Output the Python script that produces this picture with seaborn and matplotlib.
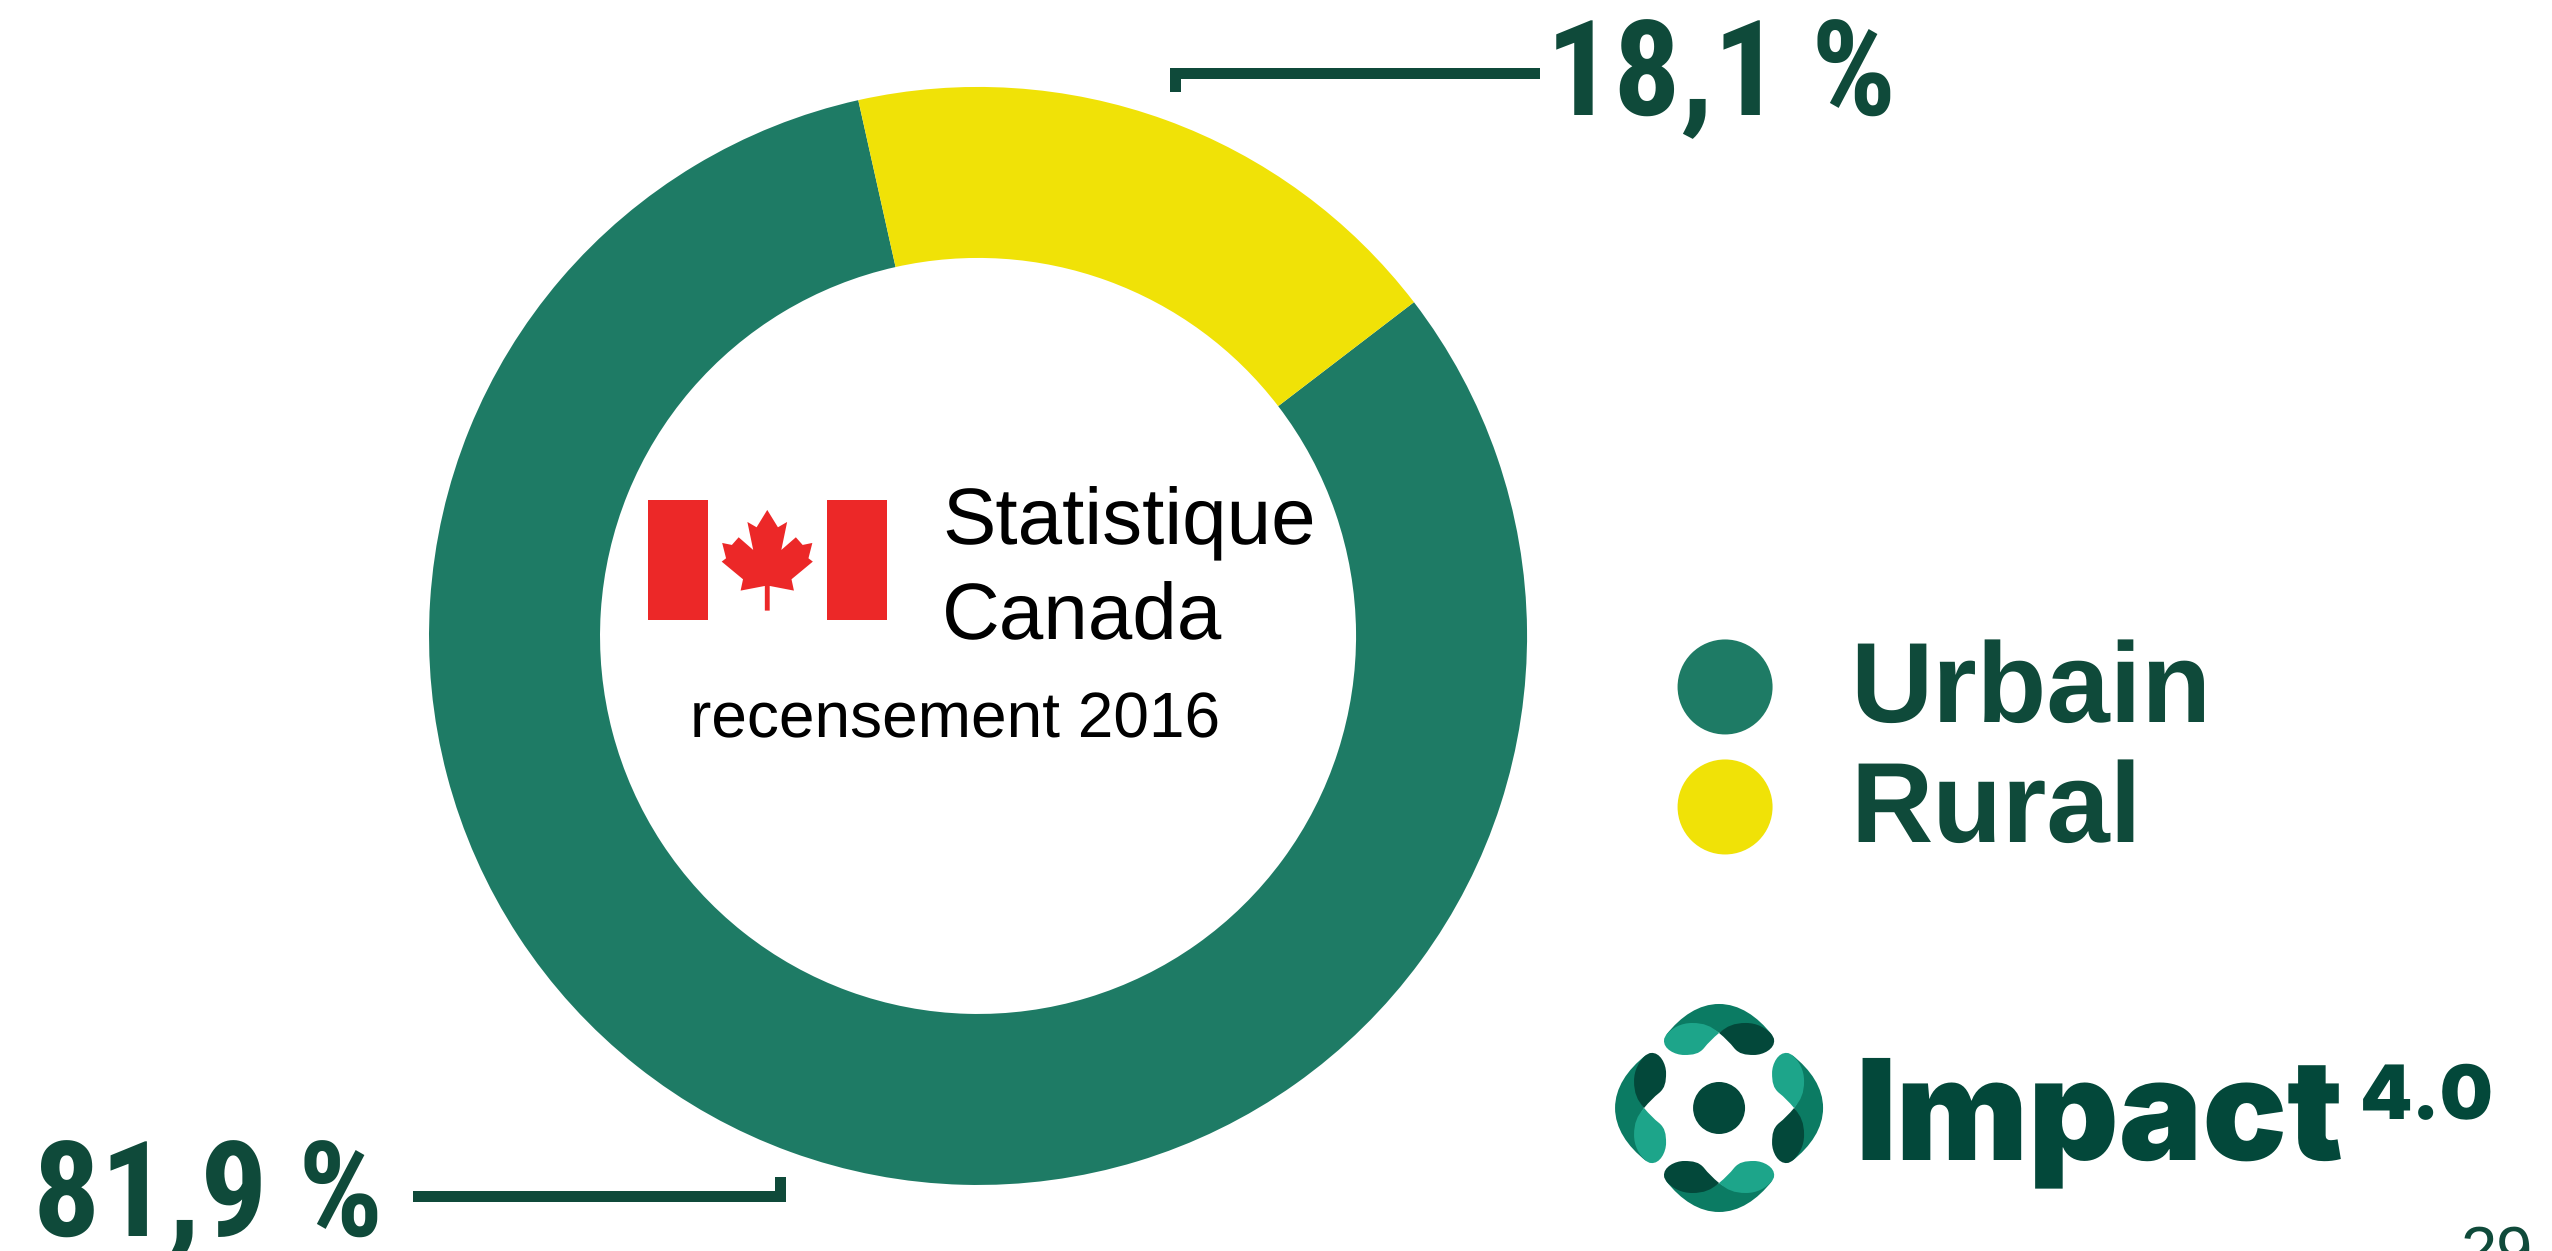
import matplotlib
matplotlib.use("Agg")
import matplotlib.pyplot as plt
import numpy as np
import seaborn as sns
from matplotlib.patches import Circle, PathPatch, Polygon, Rectangle
from matplotlib.path import Path

categories = ["Urbain", "Rural"]
shares = [81.9, 18.1]
share_labels = ["81,9 %", "18,1 %"]

W, H = 2552, 1251
GREEN = "#1E7B65"
YELLOW = "#F0E207"
DARK = "#0F4A3A"
RED = "#EC2828"
LOGO_DARK = "#03483A"
LOGO_MID = "#0B7B63"
LOGO_LIGHT = "#1DA58A"

sns.set_theme(style="white")
plt.rcParams["text.hinting"] = "no_hinting"
plt.rcParams["text.hinting_factor"] = 1
palette = sns.color_palette([GREEN, YELLOW])

fig = plt.figure(figsize=((W + 0.1) / 100, (H + 0.1) / 100), dpi=100, facecolor="white")

# donut, placed in pixels of the final image
cx, cy, R, r = 978, 636, 549, 378
pie_ax = fig.add_axes([(cx - R) / W, 1 - (cy + R) / H, 2 * R / W, 2 * R / H])
pie_ax.pie(shares, colors=palette, startangle=102.6, counterclock=True,
           radius=1, wedgeprops={"width": (R - r) / R, "linewidth": 0})
pie_ax.set_xlim(-1, 1)
pie_ax.set_ylim(-1, 1)
pie_ax.axis("off")

# everything else is drawn on an overlay in image pixels
ax = fig.add_axes([0, 0, 1, 1])
ax.set_xlim(0, W)
ax.set_ylim(H, 0)
ax.axis("off")
ax.patch.set_alpha(0)

# flag
ax.add_patch(Rectangle((648, 500), 60, 120, color=RED, lw=0))
ax.add_patch(Rectangle((827, 500), 60, 120, color=RED, lw=0))
leaf = np.array([
    (345, 210), (367, 262), (386, 246), (374, 330), (404, 292), (418, 315), (438, 309),
    (430, 355), (439, 365), (395, 418), (400, 452), (350, 438), (350, 512), (340, 512),
    (340, 438), (290, 452), (295, 418), (251, 365), (260, 355), (252, 309), (272, 315),
    (286, 292), (316, 330), (304, 246), (323, 262),
], dtype=float)
leaf_px = np.column_stack([600 + leaf[:, 0] / 2.063, 440 + leaf[:, 1] / 3])
ax.add_patch(Polygon(leaf_px, closed=True, color=RED, lw=0))

# centre text
SANS = "Liberation Sans"
ax.text(942, 544, "Statistique", family=SANS, fontsize=57.5, color="black", va="baseline")
ax.text(942, 639, "Canada", family=SANS, fontsize=57.5, color="black", va="baseline")
ax.text(690, 737, "recensement 2016", family=SANS, fontsize=46, color="black", va="baseline")

# value labels and their leaders
NARROW = "Roboto Condensed"
ax.text(1546, 115, share_labels[1], family=NARROW, fontsize=96, fontweight="bold",
        color=DARK, va="baseline")
ax.text(33, 1236, share_labels[0], family=NARROW, fontsize=96, fontweight="bold",
        color=DARK, va="baseline")
ax.add_patch(Polygon([(1170, 68), (1540, 68), (1540, 79), (1181, 79), (1181, 92), (1170, 92)],
                     closed=True, color=DARK, lw=0))
ax.add_patch(Polygon([(413, 1191), (775, 1191), (775, 1177), (786, 1177), (786, 1202), (413, 1202)],
                     closed=True, color=DARK, lw=0))

# legend
for name, colour, y_mark, y_text in zip(categories, palette, [687, 807], [722, 842]):
    ax.add_patch(Circle((1725, y_mark), 47.5, color=colour, lw=0))
    ax.text(1850, y_text, name, family=SANS, fontsize=82, fontweight="bold",
            color=DARK, va="baseline")

# logo mark: one arch with two lobes, turned four times round the centre
logo_c = np.array([1719.0, 1108.0])
arch = [(-53, -73), (-38, -92), (-20, -104), (0, -104), (20, -104), (38, -92), (53, -73),
        (30, -85), (15, -85), (0, -75), (-15, -85), (-30, -85), (-53, -73)]
lobe = [(-53, -73), (-47, -80), (-38, -85), (-27, -85), (-15, -85), (-8, -82), (0, -75),
        (-6, -70), (-11, -65), (-15, -60), (-20, -54), (-26, -53), (-35, -53),
        (-44, -53), (-56, -59), (-55, -68), (-55, -70), (-54, -71), (-53, -73)]


def curve(points, angle, flip=False):
    pts = np.array(points, dtype=float)
    if flip:
        pts[:, 0] *= -1
    t = np.radians(angle)
    rot = np.array([[np.cos(t), -np.sin(t)], [np.sin(t), np.cos(t)]])
    return Path(pts @ rot.T + logo_c, [Path.MOVETO] + [Path.CURVE4] * (len(pts) - 1))


for angle in [0, 90, 180, 270]:
    ax.add_patch(PathPatch(curve(arch, angle), facecolor=LOGO_MID, lw=0))
    ax.add_patch(PathPatch(curve(lobe, angle), facecolor=LOGO_LIGHT, lw=0))
    ax.add_patch(PathPatch(curve(lobe, angle, flip=True), facecolor=LOGO_DARK, lw=0))
ax.add_patch(Circle(logo_c, 26, color=LOGO_DARK, lw=0))

# logo text
ax.text(1855, 1159, "Impact", family="Inter", fontsize=101, fontweight=900,
        color=LOGO_DARK, va="baseline")
ax.text(2360, 1119, "4.0", family="Inter", fontsize=54, fontweight=900,
        color=LOGO_DARK, va="baseline")

# page number, cut by the bottom edge as in the source
ax.text(2461, 1272, "29", family=SANS, fontsize=47, color=DARK, va="baseline", clip_on=False)

fig.savefig("out.png", dpi=100, facecolor="white")
